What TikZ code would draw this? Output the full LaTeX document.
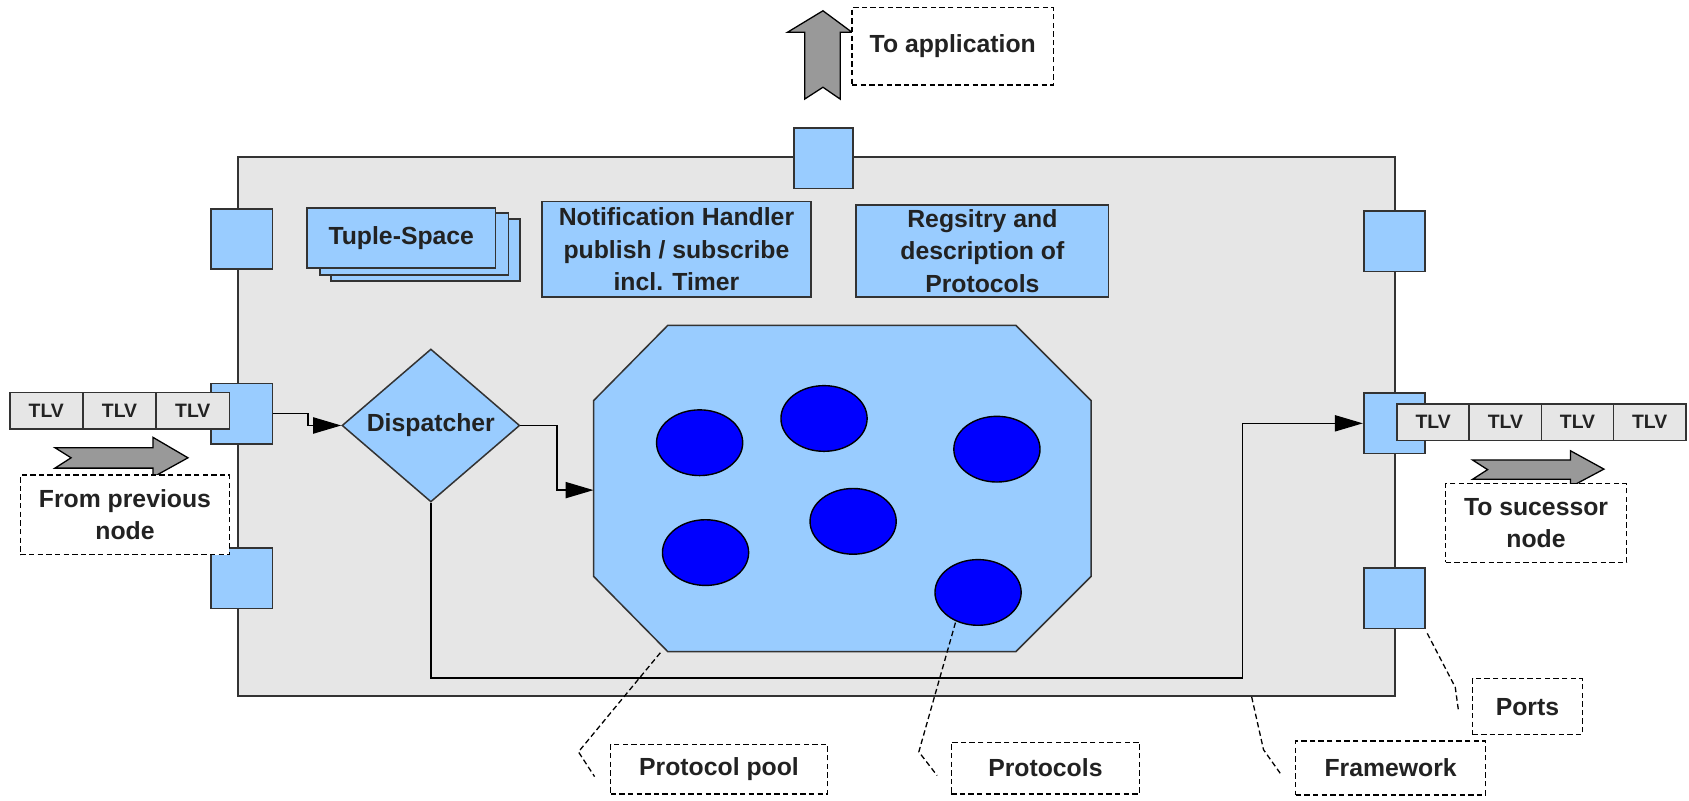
\documentclass[tikz,border=0pt]{standalone}
\usepackage{fontspec}
\setmainfont{Liberation Sans}
\usetikzlibrary{shapes.geometric,arrows.meta}
\definecolor{portblue}{HTML}{99CCFF}
\definecolor{fwgray}{HTML}{E6E6E6}
\definecolor{protblue}{HTML}{0000FF}
\definecolor{arrgray}{HTML}{999999}
\definecolor{ink}{HTML}{222222}
\definecolor{edge}{HTML}{333333}
\begin{document}
\begin{tikzpicture}[x=1pt,y=-1pt,
  every node/.style={font=\fontsize{23}{30}\selectfont\bfseries, text=ink, inner sep=0pt},
  bluebox/.style={draw=edge, line width=1.6pt, fill=portblue, align=center},
  port/.style={bluebox, minimum width=57pt, minimum height=56pt},
  tlv/.style={draw=edge, line width=1.6pt, fill=fwgray, minimum height=34pt,
    font=\fontsize{18}{20}\selectfont\bfseries},
  callout/.style={draw=black, line width=1.2pt, dash pattern=on 5pt off 3pt, fill=white, align=center},
  lead/.style={draw=black, line width=1.2pt, dash pattern=on 5pt off 3pt},
  conn/.style={draw=black, line width=1.4pt, -{Triangle[length=26pt,width=15pt]}},
  fat/.style={draw=black, line width=1.2pt, fill=arrgray, line join=miter},
  proto/.style={ellipse, draw=black, line width=1.3pt, fill=protblue, minimum width=80pt, minimum height=61pt}
]
\useasboundingbox (0,0) rectangle (1568,743);

% framework
\node[draw=edge, line width=1.6pt, fill=fwgray, minimum width=1074pt, minimum height=500pt] (fw) at (758,396) {};

% ports
\node[port, minimum width=55pt] (pT) at (764.5,147) {};
\node[port] (pL1) at (224.5,222) {};
\node[port] (pL2) at (224.5,384) {};
\node[port] (pL3) at (224.5,537) {};
\node[port] (pR1) at (1294.5,224) {};
\node[port] (pR2) at (1294.5,393) {};
\node[port] (pR3) at (1294.5,555.5) {};

% tuple space stack
\node[bluebox, minimum width=176pt, minimum height=58pt] (ts3) at (395,232) {};
\node[bluebox, minimum width=175pt, minimum height=57pt] (ts2) at (384.5,226.5) {};
\node[bluebox, minimum width=175pt, minimum height=56pt] (ts1) at (372.5,221) {Tuple-Space};

% notification / registry
\node[bluebox, minimum width=250pt, minimum height=89pt] (notif) at (628,231.5)
  {Notification Handler\\publish / subscribe\\incl. Timer};
\node[bluebox, minimum width=234pt, minimum height=86pt] (reg) at (912,233)
  {Regsitry and\\description of\\Protocols};

% protocol pool
\path[draw=edge, line width=1.4pt, fill=portblue]
  (620,302) -- (943,302) -- (1013,372) -- (1013,535) -- (943,605) -- (620,605) -- (551,535) -- (551,372) -- cycle;
\coordinate (poolW) at (551,455);

% protocols
\node[proto] (e1) at (649.5,411) {};
\node[proto] (e2) at (765,388.5) {};
\node[proto] (e3) at (925.5,417) {};
\node[proto] (e4) at (792,484) {};
\node[proto] (e5) at (655,513) {};
\node[proto] (e6) at (908,550) {};

% dispatcher
\node[diamond, aspect=1.16, draw=edge, line width=1.4pt, fill=portblue,
  minimum width=165pt, minimum height=142pt] (disp) at (400,395) {Dispatcher};

% connectors
\coordinate (bendR) at (1153.5,629.5);
\draw[conn] (pL2.east) -- ++(32,0) |- (disp.west);
\draw[conn] (disp.east) -- ++(34,0) |- (poolW);
\draw[conn] (disp.south) |- (bendR) |- (pR2.west);

% TLV strips
\node[tlv, minimum width=68pt] (tl1) at (43,381.5) {TLV};
\node[tlv, minimum width=68pt] (tl2) at (111,381.5) {TLV};
\node[tlv, minimum width=68pt] (tl3) at (179,381.5) {TLV};
\node[tlv, minimum width=67pt] (tr1) at (1330.5,392) {TLV};
\node[tlv, minimum width=67pt] (tr2) at (1397.5,392) {TLV};
\node[tlv, minimum width=67pt] (tr3) at (1464.5,392) {TLV};
\node[tlv, minimum width=67pt] (tr4) at (1531.5,392) {TLV};

% fat arrows
\path[fat] (51,415.6) -- (142,415.6) -- (142,406) -- (174.5,425) -- (142,443) -- (142,434.6) -- (51,434.6) -- (66,425) -- cycle;
\path[fat] (1367,427) -- (1458,427) -- (1458,418.5) -- (1489,435.5) -- (1458,452) -- (1458,445) -- (1367,445) -- (1381,436) -- cycle;
\path[fat] (764,10) -- (791,30) -- (780,30) -- (780,92) -- (764,81) -- (747,92) -- (747,30) -- (731,30) -- cycle;

% callout boxes
\node[callout, minimum width=187pt, minimum height=72pt] (toapp) at (884.5,43) {To application};
\node[callout, minimum width=194pt, minimum height=74pt] (fromprev) at (116,478) {From previous\\node};
\node[callout, minimum width=168pt, minimum height=73pt] (tosucc) at (1426,485.5) {To sucessor\\node};
\node[callout, minimum width=201pt, minimum height=46pt] (cpool) at (667.5,714) {Protocol pool};
\node[callout, minimum width=175pt, minimum height=48pt] (cprot) at (970.5,713) {Protocols};
\node[callout, minimum width=176pt, minimum height=50pt] (cfw) at (1291,713) {Framework};
\node[callout, minimum width=102pt, minimum height=52pt] (cports) at (1418,656) {Ports};

% leaders
\coordinate (lpS) at (613,606); \coordinate (lpB) at (537,698); \coordinate (lpE) at (552,721);
\coordinate (lrS) at (887,578); \coordinate (lrB) at (853,698); \coordinate (lrE) at (870,720);
\coordinate (lfS) at (1162,647); \coordinate (lfB) at (1173,696); \coordinate (lfE) at (1190,720);
\coordinate (lqS) at (1325,588); \coordinate (lqB) at (1351,638); \coordinate (lqE) at (1354,660);
\draw[lead] (lpS) -- (lpB) -- (lpE);
\draw[lead] (lrS) -- (lrB) -- (lrE);
\draw[lead] (lfS) -- (lfB) -- (lfE);
\draw[lead] (lqS) -- (lqB) -- (lqE);
\end{tikzpicture}
\end{document}
